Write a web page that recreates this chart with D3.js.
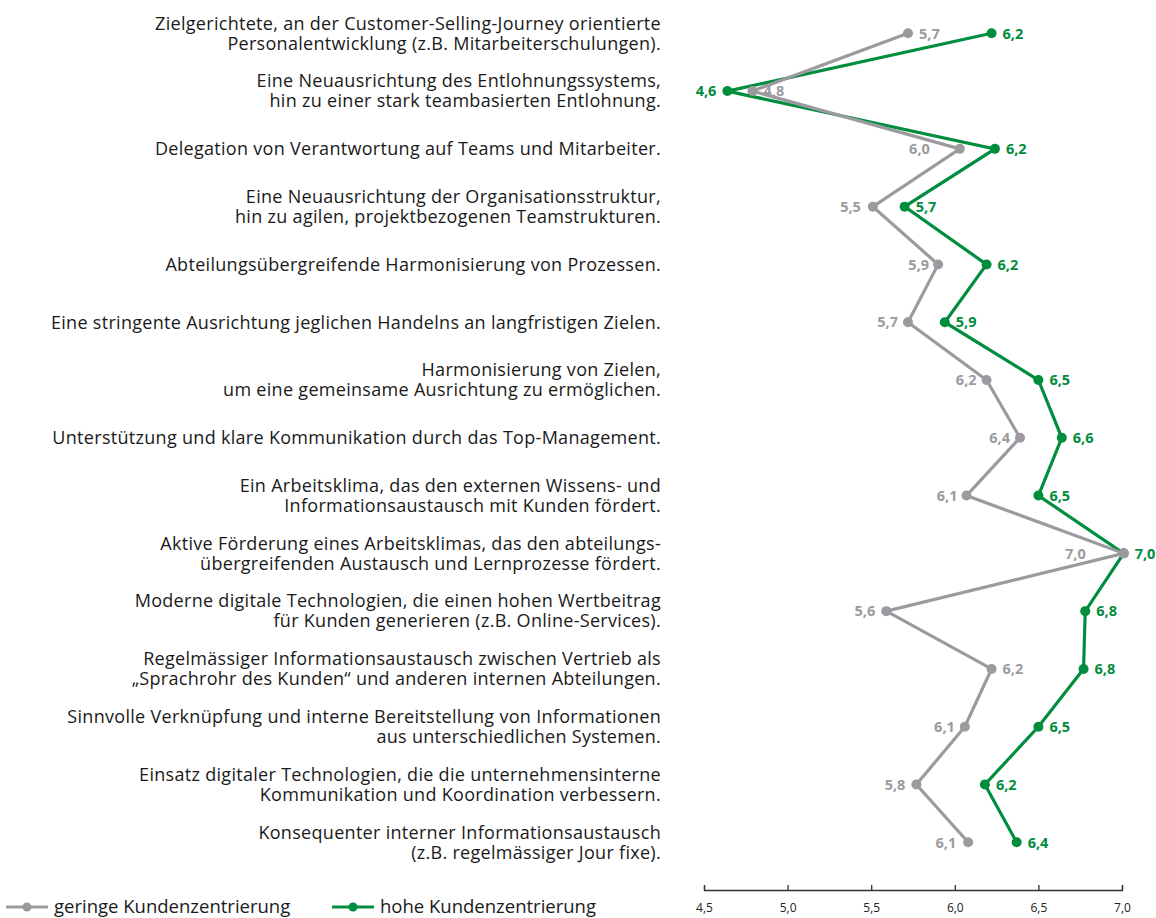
<!DOCTYPE html>
<html>

<head>
  <meta charset="UTF-8">
  <title>Kundenzentrierung</title>
  <script src="https://d3js.org/d3.v7.min.js"></script>
  <style>
    body {
      margin: 0;
      background: #fff;
    }

    text {
      font-family: "Open Sans", "Noto Sans", sans-serif;
    }
  </style>
</head>

<body>
  <svg></svg>
</body>

<script>
  // categories (each entry = lines of the label)
  let categories = [
    ["Zielgerichtete, an der Customer-Selling-Journey orientierte", "Personalentwicklung (z.B. Mitarbeiterschulungen)."],
    ["Eine Neuausrichtung des Entlohnungssystems,", "hin zu einer stark teambasierten Entlohnung."],
    ["Delegation von Verantwortung auf Teams und Mitarbeiter."],
    ["Eine Neuausrichtung der Organisationsstruktur,", "hin zu agilen, projektbezogenen Teamstrukturen."],
    ["Abteilungsübergreifende Harmonisierung von Prozessen."],
    ["Eine stringente Ausrichtung jeglichen Handelns an langfristigen Zielen."],
    ["Harmonisierung von Zielen,", "um eine gemeinsame Ausrichtung zu ermöglichen."],
    ["Unterstützung und klare Kommunikation durch das Top-Management."],
    ["Ein Arbeitsklima, das den externen Wissens- und", "Informationsaustausch mit Kunden fördert."],
    ["Aktive Förderung eines Arbeitsklimas, das den abteilungs-", "übergreifenden Austausch und Lernprozesse fördert."],
    ["Moderne digitale Technologien, die einen hohen Wertbeitrag", "für Kunden generieren (z.B. Online-Services)."],
    ["Regelmässiger Informationsaustausch zwischen Vertrieb als", "„Sprachrohr des Kunden“ und anderen internen Abteilungen."],
    ["Sinnvolle Verknüpfung und interne Bereitstellung von Informationen", "aus unterschiedlichen Systemen."],
    ["Einsatz digitaler Technologien, die die unternehmensinterne", "Kommunikation und Koordination verbessern."],
    ["Konsequenter interner Informationsaustausch", "(z.B. regelmässiger Jour fixe)."]
  ];

  // series values
  let geringValues = [5.72, 4.79, 6.03, 5.51, 5.90, 5.72, 6.19, 6.39, 6.07, 7.01, 5.59, 6.22, 6.06, 5.77, 6.08];
  let hochValues = [6.22, 4.64, 6.24, 5.70, 6.19, 5.94, 6.50, 6.64, 6.50, 7.01, 6.78, 6.77, 6.50, 6.18, 6.37];

  // x tick labels
  let xTicks = [4.5, 5.0, 5.5, 6.0, 6.5, 7.0];

  let seriesNames = ["geringe Kundenzentrierung", "hohe Kundenzentrierung"];

  // which side the value label goes (layout, not data)
  let geringSide = ["R", "R", "L", "L", "L", "L", "L", "L", "L", "L", "L", "R", "L", "L", "L"];
  let hochSide = ["R", "L", "R", "R", "R", "R", "R", "R", "R", "R", "R", "R", "R", "R", "R"];
  let geringGap = [11, 11, 30, 12, 9, 10, 10, 10, 9, 38, 11, 11, 10, 11, 12];
  let hochGap = [11, 11, 11, 11, 11, 11, 11, 11, 11, 11, 11, 11, 11, 11, 11];

  let width = 1156,
    height = 918;

  let grey = "#9b9b9f",
    green = "#008d3d";

  let svg = d3.select("svg")
    .attr("width", width)
    .attr("height", height);

  let x = d3.scaleLinear()
    .domain([4.5, 7.0])
    .range([704, 1122]);

  let y = d3.scalePoint()
    .domain(d3.range(categories.length))
    .range([33.3, 842.3]);

  // category labels
  let catG = svg.append("g").attr("id", "categories");
  categories.forEach((lines, i) => {
    let t = catG.append("text")
      .attr("text-anchor", "end")
      .attr("x", 661)
      .attr("y", y(i))
      .attr("font-size", 18)
      .attr("letter-spacing", 0.3)
      .attr("fill", "#1a1a1a");
    lines.forEach((l, j) => {
      t.append("tspan")
        .attr("x", 661)
        .attr("y", y(i) + (j - (lines.length - 1) / 2) * 20)
        .attr("dy", "0.35em")
        .text(l);
    });
  });

  // x axis
  let axis = svg.append("g")
    .attr("transform", "translate(0,890)")
    .call(d3.axisBottom(x).tickValues(xTicks).tickSize(-5).tickPadding(13)
      .tickFormat(d => d3.format(".1f")(d).replace(".", ",")));
  axis.select(".domain").attr("stroke", "#333").attr("stroke-width", 1.3);
  axis.selectAll(".tick line").attr("stroke", "#333").attr("stroke-width", 1.3);
  axis.selectAll(".tick text")
    .attr("font-size", 12)
    .attr("fill", "#222")
    .style("font-family", "'Open Sans', sans-serif");

  let fmt = v => d3.format(".1f")(v).replace(".", ",");

  let line = d3.line()
    .x(d => x(d))
    .y((d, i) => y(i));

  function drawSeries(values, color, sides, gapL) {
    let g = svg.append("g");
    g.append("path")
      .datum(values)
      .attr("fill", "none")
      .attr("stroke", color)
      .attr("stroke-width", 3.2)
      .attr("d", line);

    g.selectAll("circle")
      .data(values)
      .enter()
      .append("circle")
      .attr("cx", d => x(d))
      .attr("cy", (d, i) => y(i))
      .attr("r", 5)
      .attr("fill", color);

    g.selectAll("text.val")
      .data(values)
      .enter()
      .append("text")
      .attr("class", "val")
      .attr("x", (d, i) => sides[i] == "R" ? x(d) + 11 : x(d) - gapL[i])
      .attr("y", (d, i) => y(i))
      .attr("dy", "0.36em")
      .attr("text-anchor", (d, i) => sides[i] == "R" ? "start" : "end")
      .attr("font-size", 14.5)
      .attr("font-weight", "bold")
      .attr("fill", color)
      .text(d => fmt(d));
  }

  drawSeries(hochValues, green, hochSide, hochGap);
  drawSeries(geringValues, grey, geringSide, geringGap);

  // legend
  let legend = svg.append("g").attr("transform", "translate(0,907)");
  let legX = [6, 332];
  let legColors = [grey, green];
  seriesNames.forEach((name, i) => {
    let lg = legend.append("g").attr("transform", "translate(" + legX[i] + ",0)");
    lg.append("line")
      .attr("x1", 0).attr("x2", 42)
      .attr("y1", 0).attr("y2", 0)
      .attr("stroke", legColors[i])
      .attr("stroke-width", 3.2);
    lg.append("circle")
      .attr("cx", 21).attr("cy", 0).attr("r", 4.5)
      .attr("fill", legColors[i]);
    lg.append("text")
      .attr("x", 48)
      .attr("y", 0)
      .attr("dy", "0.35em")
      .attr("font-size", 18.5)
      .attr("fill", "#1a1a1a")
      .text(name);
  });
</script>
</html>
